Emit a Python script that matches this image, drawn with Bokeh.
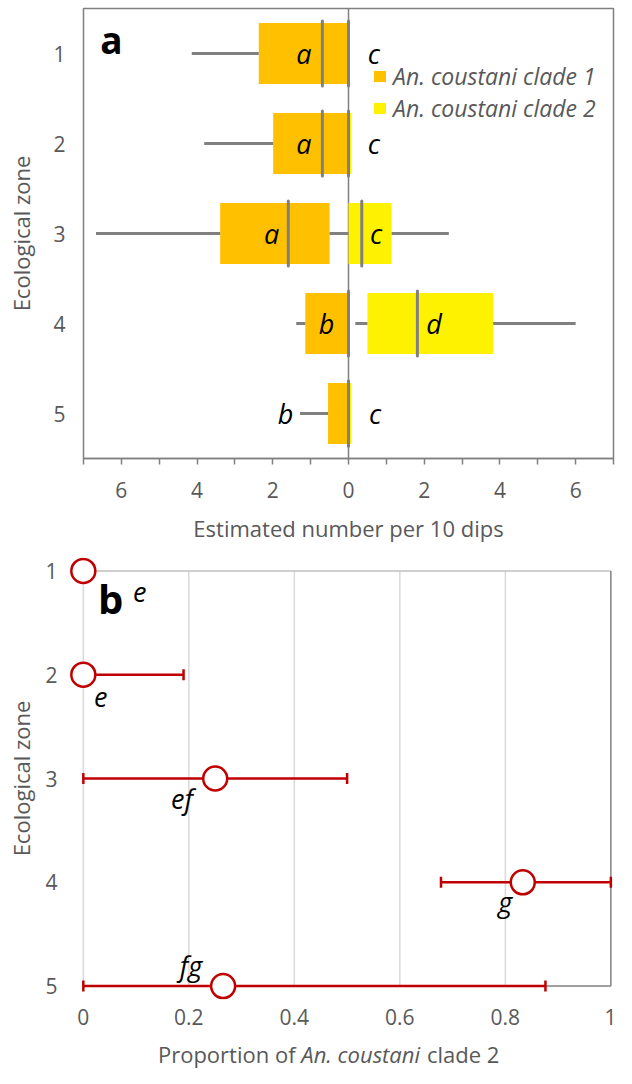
from bokeh.plotting import figure
from bokeh.models import (Range1d, FixedTicker, CustomJSTickFormatter, Legend,
                          LegendItem, Label, Span)
from bokeh.embed import file_html
from bokeh.resources import INLINE
from bokeh.core.properties import value
import math

# ---------------- data ----------------
zones = [1, 2, 3, 4, 5]
zone_labels = ["1", "2", "3", "4", "5"]

# An. coustani clade 1 (drawn to the left, absolute values)
c1_whisker_in = [0, 0, 0, 0, 0]
c1_q_in = [0, 0, 0.50, 0, 0]
c1_median = [0.69, 0.69, 1.59, 0, 0]
c1_q_out = [2.37, 1.99, 3.39, 1.14, 0.54]
c1_whisker_out = [4.14, 3.81, 6.67, 1.38, 1.28]
c1_letters = ["a", "a", "a", "b", "b"]

# An. coustani clade 2 (drawn to the right)
c2_whisker_in = [0, 0, 0, 0.18, 0]
c2_q_in = [0, 0, 0, 0.50, 0]
c2_median = [0, 0, 0.35, 1.82, 0]
c2_q_out = [0, 0.08, 1.14, 3.82, 0.08]
c2_whisker_out = [0, 0.08, 2.65, 6.00, 0.08]
c2_letters = ["c", "c", "c", "d", "c"]

# proportion of clade 2
prop = [0, 0, 0.25, 0.833, 0.265]
prop_lo = [0, 0, 0, 0.678, 0]
prop_hi = [0, 0.19, 0.50, 1.0, 0.876]
prop_letters = ["e", "e", "ef", "g", "fg"]
prop_ticks = [0, 0.2, 0.4, 0.6, 0.8, 1.0]

# annotation placement (not data)
c1_letter_x = [-1.18, -1.18, -2.03, -0.58, -1.66]
c2_letter_x = [0.67, 0.67, 0.73, 2.26, 0.70]
prop_letter_x = [0.107, 0.033, 0.187, 0.80, 0.204]
prop_letter_dy = [21, 22, 20, 19, -21]

FONT = "Open Sans"
GRAY_TXT = "#595959"
AXIS_GRAY = "#808080"
ORANGE = "#FFC000"
YELLOW = "#FFF200"
RED = "#C00000"

# ---------------- panel a ----------------
p1 = figure(width=616, height=552, output_backend="svg", toolbar_location=None,
            x_range=Range1d(-7, 7), y_range=Range1d(5.5, 0.5),
            min_border_left=83, min_border_right=3, min_border_top=8,
            min_border_bottom=94)
p1.background_fill_color = "white"
p1.border_fill_color = "white"
p1.outline_line_color = AXIS_GRAY
p1.outline_line_width = 1.5
p1.grid.visible = False

p1.add_layout(Span(location=0, dimension="height", line_color=AXIS_GRAY,
                   line_width=1.5, level="underlay"))

r1 = p1.hbar(y=zones, left=[-v for v in c1_q_out], right=[-v for v in c1_q_in],
             height=0.68, fill_color=ORANGE, line_color=None)
r2 = p1.hbar(y=zones, left=c2_q_in, right=c2_q_out, height=0.68,
             fill_color=YELLOW, line_color=None)

# whiskers
p1.segment(x0=[-v for v in c1_q_out], x1=[-v for v in c1_whisker_out],
           y0=zones, y1=zones, line_color=AXIS_GRAY, line_width=3)
p1.segment(x0=[-v for v in c1_q_in], x1=[-v for v in c1_whisker_in],
           y0=zones, y1=zones, line_color=AXIS_GRAY, line_width=3)
p1.segment(x0=c2_q_out, x1=c2_whisker_out, y0=zones, y1=zones,
           line_color=AXIS_GRAY, line_width=3)
p1.segment(x0=c2_q_in, x1=c2_whisker_in, y0=zones, y1=zones,
           line_color=AXIS_GRAY, line_width=3)

# medians
ytop = [z - 0.36 for z in zones]
ybot = [z + 0.36 for z in zones]
p1.segment(x0=[-v for v in c1_median], x1=[-v for v in c1_median],
           y0=ytop, y1=ybot, line_color=AXIS_GRAY, line_width=3, line_cap="round")
p1.segment(x0=c2_median, x1=c2_median, y0=ytop, y1=ybot,
           line_color=AXIS_GRAY, line_width=3, line_cap="round")

# significance letters
for lx, lt in ((c1_letter_x, c1_letters), (c2_letter_x, c2_letters)):
    p1.text(x=lx, y=zones, text=lt, text_font=value(FONT),
            text_font_style="italic", text_font_size="27px", text_color="black",
            text_align="center", text_baseline="middle")

p1.add_layout(Label(x=-6.56, y=0.845, text="a", text_font=FONT,
                    text_font_style="bold", text_font_size="37px",
                    text_color="black", text_align="left",
                    text_baseline="middle"))

legend = Legend(items=[LegendItem(label="An. coustani clade 1", renderers=[r1]),
                       LegendItem(label="An. coustani clade 2", renderers=[r2])],
                location=(289, 334), glyph_width=15, glyph_height=14,
                label_text_font=FONT, label_text_font_style="italic",
                label_text_font_size="23px", label_text_color=GRAY_TXT,
                label_standoff=6, spacing=0, padding=0, margin=0,
                border_line_color=None, background_fill_alpha=0)
p1.add_layout(legend)

p1.xaxis.ticker = FixedTicker(ticks=list(range(-7, 8)))
p1.xaxis.formatter = CustomJSTickFormatter(
    code="const a = Math.abs(tick); return (a % 2 == 0) ? a.toString() : '';")
p1.xaxis.axis_label = "Estimated number per 10 dips"
p1.xaxis.axis_line_color = AXIS_GRAY
p1.xaxis.axis_line_width = 1.5
p1.xaxis.major_tick_out = 6
p1.xaxis.major_tick_in = 0
p1.xaxis.major_tick_line_color = AXIS_GRAY
p1.xaxis.major_tick_line_width = 1.5
p1.xaxis.minor_tick_line_color = None
p1.xaxis.major_label_standoff = 17
p1.xaxis.axis_label_standoff = 12

p1.yaxis.ticker = FixedTicker(ticks=zones)
p1.yaxis.major_label_overrides = {z: s for z, s in zip(zones, zone_labels)}
p1.yaxis.axis_label = "Ecological zone"
p1.yaxis.axis_line_color = None
p1.yaxis.major_tick_line_color = None
p1.yaxis.major_tick_out = 0
p1.yaxis.major_tick_in = 0
p1.yaxis.minor_tick_line_color = None
p1.yaxis.minor_tick_out = 0
p1.yaxis.major_label_standoff = 18
p1.yaxis.axis_label_standoff = 14

for ax in (p1.xaxis, p1.yaxis):
    ax.major_label_text_font = FONT
    ax.major_label_text_font_size = "21px"
    ax.major_label_text_color = GRAY_TXT
    ax.axis_label_text_font = FONT
    ax.axis_label_text_font_size = "22px"
    ax.axis_label_text_font_style = "normal"
    ax.axis_label_text_color = GRAY_TXT

# ---------------- panel b ----------------
XR = (-0.03, 1.005)
p2 = figure(width=616, height=485, output_backend="svg", toolbar_location=None,
            x_range=Range1d(*XR), y_range=Range1d(5.13, 0.87),
            min_border_left=67, min_border_right=3, min_border_top=5,
            min_border_bottom=38)
p2.background_fill_color = "white"
p2.border_fill_color = "white"
p2.outline_line_color = None
p2.grid.visible = False

# vertical gridlines and box edges
grid_x = prop_ticks[:-1]
p2.segment(x0=grid_x, x1=grid_x, y0=[zones[0]] * len(grid_x),
           y1=[zones[-1]] * len(grid_x), line_color="#D9D9D9", line_width=1.5)
p2.segment(x0=[prop_ticks[0]], x1=[prop_ticks[-1]], y0=[zones[0]], y1=[zones[0]],
           line_color="#BFBFBF", line_width=1.5)
p2.segment(x0=[prop_ticks[-1], prop_ticks[0]], x1=[prop_ticks[-1], prop_ticks[-1]],
           y0=[zones[0], zones[-1]], y1=[zones[-1], zones[-1]],
           line_color=AXIS_GRAY, line_width=1.5)

# error bars
has_err = [i for i in range(len(zones)) if prop_hi[i] > prop_lo[i]]
ez = [zones[i] for i in has_err]
elo = [prop_lo[i] for i in has_err]
ehi = [prop_hi[i] for i in has_err]
p2.segment(x0=elo, x1=ehi, y0=ez, y1=ez, line_color=RED, line_width=2.5)
p2.scatter(x=elo + ehi, y=ez + ez, marker="dash", angle=math.pi / 2, size=11,
           line_color=RED, line_width=2.5)
p2.scatter(x=prop, y=zones, marker="circle", size=24, fill_color="white",
           line_color=RED, line_width=2.5)

p2.text(x=prop_letter_x, y=zones, text=prop_letters, y_offset=prop_letter_dy,
        text_font=value(FONT), text_font_style="italic", text_font_size="27px",
        text_color="black", text_align="center", text_baseline="middle")

p2.add_layout(Label(x=0.028, y=1.265, text="b", text_font=FONT,
                    text_font_style="bold", text_font_size="40px",
                    text_color="black", text_align="left",
                    text_baseline="middle"))

p2.xaxis.ticker = FixedTicker(ticks=prop_ticks)
p2.xaxis.formatter = CustomJSTickFormatter(
    code="return tick.toFixed(1).replace(/\\.0$/, '');")
p2.xaxis.axis_line_color = None
p2.xaxis.major_tick_line_color = None
p2.xaxis.major_tick_out = 0
p2.xaxis.major_tick_in = 0
p2.xaxis.minor_tick_line_color = None
p2.xaxis.minor_tick_out = 0
p2.xaxis.major_label_standoff = 9

p2.yaxis.ticker = FixedTicker(ticks=zones)
p2.yaxis.major_label_overrides = {z: s for z, s in zip(zones, zone_labels)}
p2.yaxis.axis_label = "Ecological zone"
p2.yaxis.axis_line_color = None
p2.yaxis.major_tick_line_color = None
p2.yaxis.major_tick_out = 0
p2.yaxis.major_tick_in = 0
p2.yaxis.minor_tick_line_color = None
p2.yaxis.minor_tick_out = 0
p2.yaxis.major_label_standoff = 10
p2.yaxis.axis_label_standoff = 6

for ax in (p2.xaxis, p2.yaxis):
    ax.major_label_text_font = FONT
    ax.major_label_text_font_size = "21px"
    ax.major_label_text_color = GRAY_TXT
    ax.axis_label_text_font = FONT
    ax.axis_label_text_font_size = "22px"
    ax.axis_label_text_font_style = "normal"
    ax.axis_label_text_color = GRAY_TXT

# ---------------- x title of panel b (mixed styles) ----------------
p3 = figure(width=616, height=31, output_backend="svg", toolbar_location=None,
            title=None, x_range=Range1d(*XR), y_range=Range1d(0, 31),
            x_axis_type=None, y_axis_type=None,
            min_border_left=67, min_border_right=3, min_border_top=0,
            min_border_bottom=0)
p3.background_fill_color = "white"
p3.border_fill_color = "white"
p3.outline_line_color = None
p3.grid.visible = False
for txt, xx, style, align in [("Proportion of", 0.4023, "normal", "right"),
                              ("An. coustani", 0.4133, "italic", "left"),
                              ("clade 2", 0.6515, "normal", "left")]:
    p3.add_layout(Label(x=xx, y=15, text=txt, text_font=FONT,
                        text_font_style=style, text_font_size="22px",
                        text_color=GRAY_TXT, text_align=align,
                        text_baseline="middle"))

open("out.html", "w").write(file_html([p1, p2, p3], INLINE))
